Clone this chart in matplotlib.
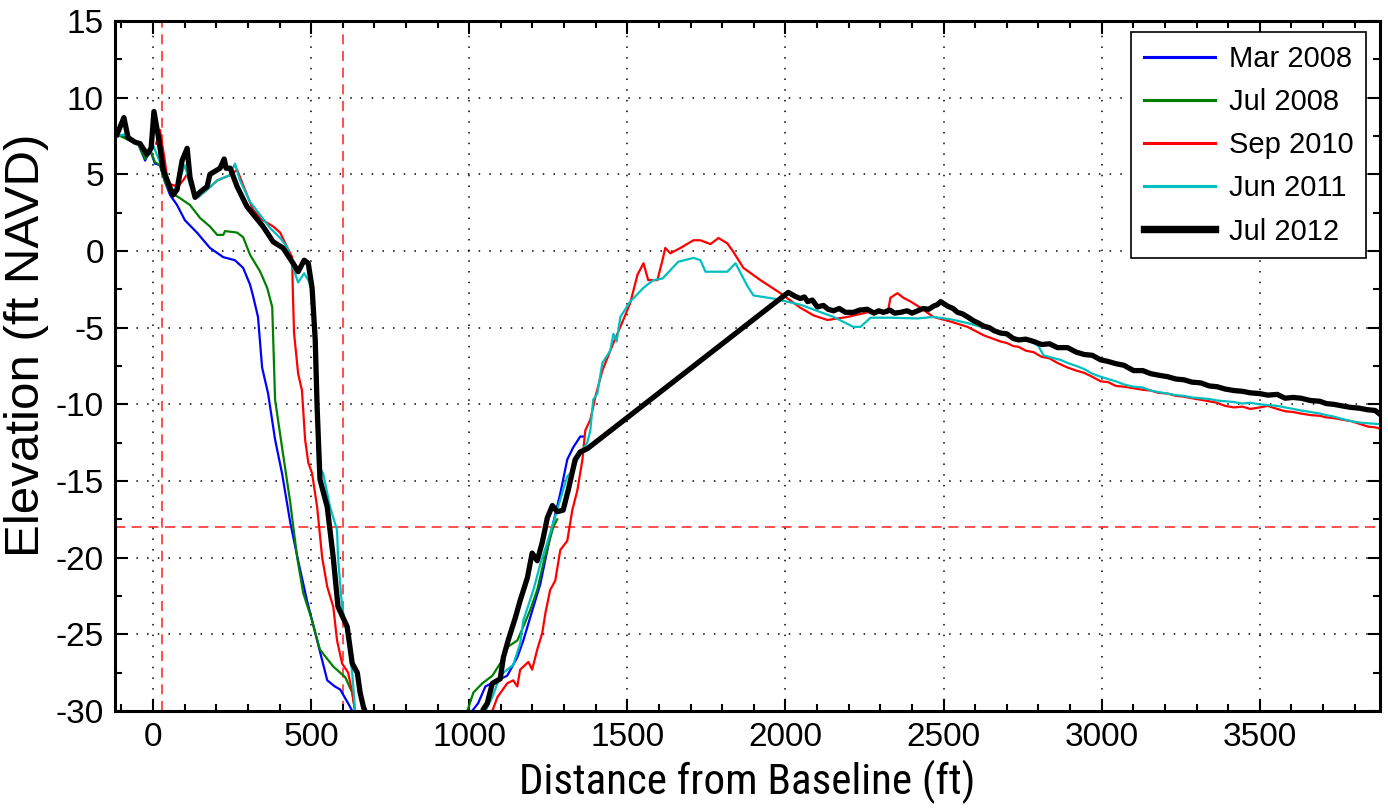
import numpy as np
import matplotlib
matplotlib.use("Agg")
import matplotlib.pyplot as plt
import matplotlib.font_manager as fm
from matplotlib.ticker import MultipleLocator

# ── fonts ─────────────────────────────────────────────
_available = {f.name for f in fm.fontManager.ttflist}
base_font = "Liberation Sans" if "Liberation Sans" in _available else "DejaVu Sans"
_narrow = ["Liberation Sans Narrow", "Roboto Condensed", "Archivo Narrow", "Barlow Semi Condensed"]
narrow_font = next((f for f in _narrow if f in _available), base_font)
plt.rcParams["font.family"] = [base_font, "DejaVu Sans"]
plt.rcParams["axes.unicode_minus"] = False

# ── survey profiles (distance ft, elevation ft NAVD) ──
mar08_x = [-114, -95, -73, -47, -25, -9, 6, 22, 38, 54, 76, 101, 139, 180, 222, 259, 285, 307,
           316, 332, 345, 364, 386, 408, 434, 459, 487, 519, 551, 575, 592, 617, 630, 645,
           1000, 1009, 1028, 1051, 1089, 1120, 1152, 1171, 1203, 1225, 1247, 1266, 1288, 1310,
           1329, 1351, 1361]
mar08_y = [7.6, 7.5, 7.2, 7.0, 5.9, 6.6, 5.7, 5.6, 4.5, 3.65, 3.0, 2.0, 1.2, 0.2, -0.4, -0.6, -1.1, -2.2,
           -2.9, -4.3, -7.6, -9.3, -12.3, -14.5, -17.7, -20.2, -22.8, -25.4, -28.0, -28.4, -28.6, -29.5, -30.0, -31,
           -31, -30.0, -29.5, -28.4, -28.0, -27.7, -26.5, -25.4, -23.2, -21.7, -19.5, -17.7, -15.8, -13.6,
           -12.8, -12.1, -12.1]

jul08_x = [-114, -73, -47, -25, -9, 6, 22, 38, 54, 85, 117, 149, 180, 203, 222, 228, 266, 285,
           307, 339, 361, 377, 386, 408, 434, 456, 475, 503, 528, 570, 608, 630, 639, 650,
           990, 994, 1013, 1041, 1073, 1098, 1123, 1152, 1171, 1193, 1215, 1234, 1256, 1266, 1278]
jul08_y = [7.6, 7.2, 7.0, 6.0, 6.6, 5.8, 5.6, 4.5, 3.85, 3.45, 3.0, 2.15, 1.6, 1.05, 1.05, 1.3, 1.2, 0.9,
           -0.25, -1.35, -2.4, -3.65, -9.7, -12.8, -16.4, -20.0, -22.3, -24.1, -26.0, -27.1, -27.8, -28.8, -30.0, -31,
           -31, -30.0, -28.8, -28.2, -27.7, -26.9, -25.8, -25.4, -24.5, -23.4, -22.1, -20.4, -18.7, -18.0, -17.5]

sep10_x = [10, 22, 38, 47, 63, 79, 95, 111, 127, 142, 171, 203, 244, 266, 285, 316, 348, 380,
           402, 424, 440, 442, 446, 459, 471, 481, 491, 503, 519, 535, 551, 570, 582, 598, 617,
           630, 639, 650,
           1060, 1073, 1089, 1120, 1139, 1152, 1161, 1187, 1199, 1215, 1231, 1241, 1256, 1272,
           1288, 1310, 1326, 1342, 1358, 1367, 1383, 1399, 1421, 1446, 1456, 1487, 1509, 1532,
           1551, 1566, 1595, 1611, 1620, 1636, 1668, 1709, 1731, 1763, 1788, 1816, 1835, 1867,
           1921, 1984, 2047, 2089, 2133, 2196, 2259, 2323, 2332, 2354, 2373, 2396, 2427, 2468,
           2522, 2576, 2627, 2680, 2700, 2720, 2737, 2760, 2785, 2810, 2835, 2860, 2892, 2920,
           2945, 2970, 2997, 3020, 3045, 3070, 3101, 3130, 3155, 3180, 3209, 3235, 3260, 3285,
           3313, 3340, 3365, 3390, 3418, 3445, 3470, 3500, 3525, 3555, 3580, 3605, 3630, 3660,
           3690, 3710, 3734, 3760, 3790, 3820, 3842, 3865, 3883]
sep10_y = [7.0, 7.9, 5.8, 4.4, 4.3, 4.2, 4.6, 5.1, 4.0, 3.5, 4.0, 4.6, 4.95, 5.3, 4.3, 2.7, 2.0, 1.6,
           1.2, 0.25, -0.4, -2.5, -5.35, -8.0, -9.1, -12.3, -13.8, -14.5, -16.7, -20.0, -21.9, -23.2, -25.4, -26.9, -27.5,
           -28.8, -30.0, -31,
           -31, -30.0, -29.1, -28.2, -28.0, -28.4, -27.3, -26.8, -27.3, -26.0, -24.9, -23.6, -22.1, -21.5,
           -19.5, -18.9, -16.9, -15.6, -13.6, -11.7, -11.0, -9.5, -7.8, -6.5, -6.0, -4.5, -3.4, -1.55,
           -0.8, -1.9, -1.9, -0.6, 0.2, -0.15, 0.2, 0.7, 0.7, 0.45, 0.85, 0.5, -0.05, -1.1,
           -1.9, -2.75, -3.7, -4.2, -4.5, -4.3, -4.0, -4.05, -3.05, -2.75, -3.05, -3.3, -3.7, -4.3,
           -4.6, -4.95, -5.5, -5.9, -6.0, -6.2, -6.25, -6.5, -6.6, -6.9, -7.0, -7.3, -7.6, -7.8,
           -7.95, -8.2, -8.5, -8.55, -8.8, -8.85, -8.95, -9.05, -9.1, -9.25, -9.3, -9.45, -9.5, -9.6,
           -9.7, -9.8, -9.9, -10.1, -10.2, -10.15, -10.3, -10.2, -10.1, -10.3, -10.45, -10.5, -10.6, -10.7,
           -10.75, -10.85, -10.9, -11.0, -11.1, -11.3, -11.45, -11.5, -11.6]

jun11_x = [-114, -92, -73, -47, -25, -9, 0, 22, 38, 60, 76, 92, 101, 117, 139, 171, 203, 244, 259,
           275, 307, 339, 370, 402, 424, 443, 459, 478, 491, 503, 510, 517, 522, 538, 560, 582,
           585, 598, 617, 630, 639, 650,
           1040, 1051, 1073, 1098, 1120, 1139, 1161, 1171, 1203, 1225, 1247, 1266, 1288, 1310,
           1329, 1342, 1358, 1373, 1383, 1392, 1405, 1421, 1446, 1456, 1466, 1478, 1509, 1551,
           1582, 1611, 1661, 1709, 1731, 1747, 1816, 1842, 1880, 1899, 1962, 2047, 2152, 2215,
           2237, 2269, 2332, 2418, 2468, 2522, 2576, 2627, 2680, 2700, 2720, 2744, 2770, 2785,
           2800, 2816, 2850, 2870, 2892, 2920, 2945, 2970, 2997, 3020, 3045, 3070, 3101, 3130,
           3155, 3180, 3209, 3235, 3260, 3285, 3313, 3340, 3365, 3390, 3418, 3445, 3470, 3500,
           3525, 3555, 3580, 3605, 3630, 3660, 3690, 3710, 3734, 3760, 3790, 3820, 3850, 3883]
jun11_y = [7.5, 7.6, 7.3, 7.0, 6.4, 6.7, 6.9, 5.8, 4.75, 3.85, 4.2, 5.15, 5.6, 4.3, 3.45, 4.0, 4.6, 4.95, 5.7,
           4.6, 3.2, 2.35, 1.5, 0.85, 0.25, -1.1, -2.05, -1.45, -1.9, -2.6, -5.0, -10.0, -14.0, -14.5, -16.7, -18.2,
           -20.0, -23.2, -25.4, -27.5, -30.0, -31,
           -31, -30.0, -29.1, -27.7, -27.3, -27.0, -25.6, -24.1, -22.1, -20.4, -19.0, -17.7, -16.2, -14.7,
           -14.3, -13.6, -13.0, -12.5, -11.7, -9.7, -9.3, -7.3, -6.5, -5.4, -5.9, -4.3, -3.3, -2.4,
           -1.9, -1.8, -0.7, -0.45, -0.6, -1.35, -1.35, -0.8, -2.3, -2.9, -3.1, -3.5, -4.3, -4.95,
           -4.95, -4.35, -4.35, -4.4, -4.3, -4.45, -4.7, -5.0, -5.35, -5.5, -5.7, -5.8, -5.85, -6.0,
           -6.2, -6.8, -7.0, -7.1, -7.3, -7.5, -7.7, -8.0, -8.2, -8.35, -8.5, -8.7, -8.85, -8.9,
           -9.1, -9.2, -9.3, -9.4, -9.45, -9.55, -9.6, -9.65, -9.75, -9.8, -9.85, -9.95, -9.9, -10.0,
           -10.05, -10.1, -10.2, -10.3, -10.4, -10.5, -10.6, -10.7, -10.8, -10.95, -11.1, -11.2, -11.25, -11.3]

jul12_x = [-114, -92, -79, -57, -41, -19, -6, 3, 19, 32, 63, 76, 92, 108, 117, 133, 149, 171, 180,
           212, 225, 231, 244, 266, 297, 348, 380, 411, 443, 459, 478, 491, 503, 513, 519, 528,
           551, 570, 585, 614, 630, 646, 655, 665, 687,
           1030, 1044, 1057, 1073, 1098, 1108, 1123, 1146, 1161, 1184, 1199, 1215, 1231, 1247,
           1263, 1278, 1297, 1313, 1335, 1351, 1373, 2009, 2030, 2047, 2060, 2070, 2085, 2101,
           2120, 2135, 2152, 2170, 2190, 2215, 2235, 2259, 2280, 2295, 2310, 2330, 2345, 2364,
           2385, 2400, 2418, 2435, 2453, 2468, 2480, 2491, 2502, 2513, 2530, 2544, 2560, 2576,
           2595, 2610, 2627, 2645, 2660, 2680, 2700, 2720, 2737, 2760, 2785, 2810, 2835, 2860,
           2892, 2920, 2945, 2970, 2997, 3020, 3045, 3070, 3101, 3130, 3155, 3180, 3209, 3235,
           3260, 3285, 3313, 3340, 3365, 3390, 3418, 3445, 3470, 3500, 3525, 3555, 3580, 3605,
           3630, 3660, 3690, 3710, 3734, 3760, 3788, 3815, 3840, 3865, 3883]
jul12_y = [7.6, 8.7, 7.4, 7.1, 7.0, 6.3, 6.7, 9.1, 7.2, 5.3, 3.65, 4.0, 5.9, 6.7, 4.8, 3.5, 3.85, 4.2, 5.0,
           5.4, 6.0, 5.4, 5.4, 4.2, 2.9, 1.6, 0.6, 0.2, -0.8, -1.35, -0.6, -0.8, -2.4, -5.8, -10.2, -14.9,
           -16.7, -20.0, -23.2, -24.5, -26.9, -27.5, -28.8, -29.7, -31,
           -31, -29.9, -29.5, -28.2, -27.9, -26.5, -25.4, -23.9, -22.8, -21.3, -19.7, -20.2, -19.0, -17.4,
           -16.6, -17.0, -16.9, -15.6, -13.6, -13.1, -12.9, -2.7, -2.95, -3.1, -3.0, -3.3, -3.2, -3.65,
           -3.55, -3.8, -3.9, -3.75, -4.0, -4.0, -3.85, -3.8, -4.05, -3.9, -4.0, -3.85, -4.05, -4.0,
           -3.9, -4.05, -3.9, -3.75, -3.8, -3.6, -3.5, -3.3, -3.45, -3.6, -3.75, -4.0, -4.1, -4.3,
           -4.55, -4.7, -4.9, -5.0, -5.2, -5.35, -5.4, -5.7, -5.8, -5.75, -5.9, -6.1, -6.05, -6.3,
           -6.3, -6.6, -6.75, -6.8, -7.1, -7.2, -7.35, -7.45, -7.8, -7.8, -8.0, -8.1, -8.2, -8.35,
           -8.4, -8.55, -8.6, -8.8, -8.85, -9.0, -9.1, -9.15, -9.25, -9.3, -9.4, -9.35, -9.6, -9.55,
           -9.6, -9.75, -9.8, -9.95, -10.0, -10.1, -10.2, -10.25, -10.35, -10.4, -10.7]

labels = ["Mar 2008", "Jul 2008", "Sep 2010", "Jun 2011", "Jul 2012"]
colors = ["#0000ff", "#008000", "#ff0000", "#00bfbf", "#000000"]
widths = [1.6, 1.6, 1.6, 1.6, 3.8]
series = [(mar08_x, mar08_y), (jul08_x, jul08_y), (sep10_x, sep10_y),
          (jun11_x, jun11_y), (jul12_x, jul12_y)]

# reference lines
ref_x = [30, 600]
ref_y = -18

# ── figure ────────────────────────────────────────────
fig = plt.figure(figsize=(13.88, 8.11), dpi=100)
ax = fig.add_axes([0.0829, 0.1233, 0.9113, 0.8508])

for (x, y), lab, col, lw in zip(series, labels, colors, widths):
    ax.plot(x, y, color=col, lw=lw, label=lab, solid_joinstyle="round")

for xv in ref_x:
    ax.axvline(xv, color="#ff3030", lw=1.2, ls=(0, (6, 4)), zorder=1)
ax.axhline(ref_y, color="#ff3030", lw=1.2, ls=(0, (6, 4)), zorder=1)

ax.set_xlim(-120, 3880)
ax.set_ylim(-30, 15)
ax.xaxis.set_major_locator(MultipleLocator(500))
ax.xaxis.set_minor_locator(MultipleLocator(100))
ax.yaxis.set_major_locator(MultipleLocator(5))
ax.yaxis.set_minor_locator(MultipleLocator(2.5))
ax.grid(True, which="major", color="black", ls=(0, (1, 6)), lw=1.1)

ax.tick_params(which="both", direction="in", top=True, right=True, width=1.5)
ax.tick_params(which="major", length=9, labelsize=24, pad=8)
ax.tick_params(which="minor", length=5)
for s in ax.spines.values():
    s.set_linewidth(2.2)

ax.set_xlabel("Distance from Baseline (ft)", fontsize=31, family=[narrow_font, "DejaVu Sans"], labelpad=5)
ax.set_ylabel("Elevation (ft NAVD)", fontsize=35.5)
ax.yaxis.set_label_coords(-0.052, 0.53)

leg = ax.legend(loc="upper right", bbox_to_anchor=(0.989, 0.984), borderaxespad=0,
                fontsize=21, fancybox=False, framealpha=1, edgecolor="black",
                handlelength=2.45, handletextpad=0.45, labelspacing=0.52, borderpad=0.44)
leg.get_frame().set_linewidth(1.2)
for h in leg.get_lines():
    h.set_linewidth(h.get_linewidth() * 1.4)

fig.savefig("out.png", dpi=100)
